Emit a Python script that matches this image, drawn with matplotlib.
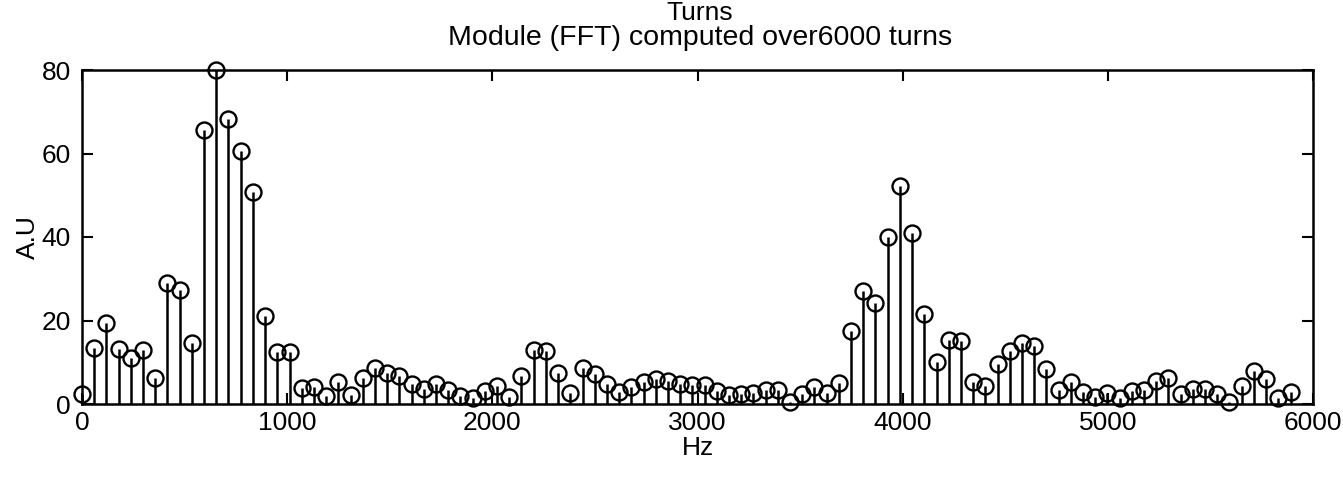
import numpy as np
import matplotlib
matplotlib.use("Agg")
import matplotlib.pyplot as plt

plt.rcParams['font.family'] = ['Liberation Sans', 'DejaVu Sans']

# FFT bin spacing (Hz) and magnitude of each bin
BIN_HZ = 59.5
amplitude = [
    2.5, 13.4, 19.3, 13.2, 10.9, 12.9, 6.2, 29.0, 27.2, 14.6,
    65.6, 80.0, 68.3, 60.7, 50.7, 21.0, 12.4, 12.4, 3.8, 4.1,
    2.0, 5.3, 2.1, 6.3, 8.7, 7.5, 6.8, 4.9, 3.5, 4.8,
    3.4, 2.0, 1.5, 3.2, 4.2, 1.6, 6.7, 12.9, 12.6, 7.4,
    2.7, 8.7, 7.1, 4.8, 2.9, 4.1, 5.3, 6.0, 5.6, 4.9,
    4.5, 4.5, 3.1, 2.2, 2.3, 2.6, 3.3, 3.4, 0.5, 2.5,
    4.0, 2.6, 5.0, 17.5, 27.1, 24.1, 40.1, 52.3, 40.9, 21.5,
    10.1, 15.4, 15.0, 5.3, 4.4, 9.6, 12.6, 14.5, 13.8, 8.3,
    3.3, 5.2, 2.9, 1.7, 2.6, 1.4, 3.1, 3.3, 5.5, 6.3,
    2.3, 3.5, 3.5, 2.3, 0.4, 4.4, 8.0, 5.9, 1.4, 2.9,
]
freq_hz = np.arange(len(amplitude)) * BIN_HZ

x_ticks = [0, 1000, 2000, 3000, 4000, 5000, 6000]
y_ticks = [0, 20, 40, 60, 80]

W, H = 1343, 478
AX_L, AX_R, AX_T, AX_B = 82, 1313, 70, 404
fig = plt.figure(figsize=(W / 100, H / 100), dpi=100)
ax = fig.add_axes([AX_L / W, 1 - AX_B / H, (AX_R - AX_L) / W, (AX_B - AX_T) / H])

markerline, stemlines, baseline = ax.stem(freq_hz, amplitude, linefmt='k-',
                                          markerfmt='ko', basefmt=' ')
markerline.set_markerfacecolor('none')
markerline.set_markeredgecolor('black')
markerline.set_markersize(11.5)
markerline.set_markeredgewidth(1.7)
markerline.set_clip_on(False)
stemlines.set_linewidth(1.8)

ax.set_xlim(0, 6000)
ax.set_ylim(0, 80)
ax.set_xticks(x_ticks)
ax.set_yticks(y_ticks)
ax.tick_params(direction='in', length=8, width=1.5, top=True, right=True,
               labelsize=19)
ax.tick_params(axis='x', pad=5)
ax.tick_params(axis='y', pad=8)
for sp in ax.spines.values():
    sp.set_linewidth(1.8)

ax.set_xlabel('Hz', fontsize=19)
ax.xaxis.set_label_coords(0.5, -(448 - AX_B) / (AX_B - AX_T), transform=ax.transAxes)
ax.xaxis.label.set_va('center')
ax.set_ylabel('A.U', fontsize=19)
ax.yaxis.set_label_coords(-(AX_L - 28) / (AX_R - AX_L), 0.5, transform=ax.transAxes)
ax.yaxis.label.set_va('center')

fig.text(700 / W, 1 - 13 / H, 'Turns', ha='center', va='center', fontsize=19)
fig.text(700 / W, 1 - 38 / H, 'Module (FFT) computed over6000 turns',
         ha='center', va='center', fontsize=20.5)
fig.text(1290 / W, 1 - 5 / H, '6000', ha='left', va='bottom', fontsize=19)

fig.savefig('out.png', dpi=100)
